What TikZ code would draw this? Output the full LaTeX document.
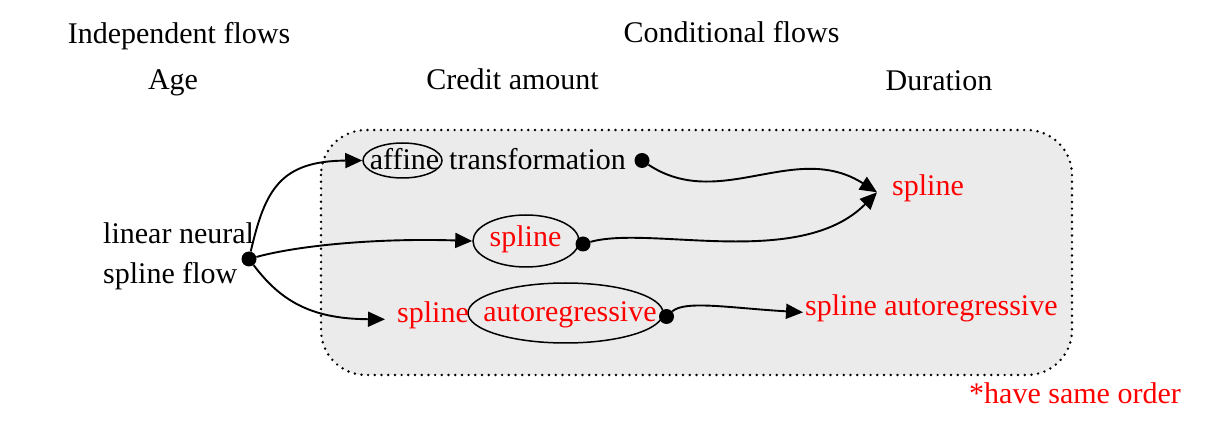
\documentclass[tikz,border=0pt]{standalone}
\usepackage{fontspec}
\setmainfont{Liberation Serif}
\usetikzlibrary{arrows.meta,shapes.geometric}
\definecolor{boxgray}{HTML}{EBEBEB}
\begin{document}
\begin{tikzpicture}[x=1pt,y=-1pt,
  every node/.style={font=\fontsize{30}{36}\selectfont, inner sep=0pt},
  lbl/.style={anchor=base},
  lblw/.style={anchor=base west},
  ell/.style={ellipse, draw, line width=1.5pt, inner sep=0pt},
  dotn/.style={circle, fill=black, minimum size=15pt},
  redt/.style={text=red},
  conn/.style={line width=1.9pt, -{Triangle[length=17pt,width=15pt]}},
  boxline/.style={fill=boxgray, rounded corners=45pt, line width=2.7pt, line cap=round, dash pattern=on 0pt off 6.7pt}]
\useasboundingbox (0,0) rectangle (1208,446);
\draw[boxline] (321,130) rectangle (1072,375);
% headers
\node[lbl] (indep) at (179,44) {Independent flows};
\node[lbl] (cond) at (731.5,42.5) {Conditional flows};
\node[lbl] (age) at (173,89.5) {Age};
\node[lbl] (credit) at (512.5,89.5) {Credit amount};
\node[lbl] (dur) at (939,90.5) {Duration};
% left
\node[lblw] (lin1) at (103,243.5) {linear neural};
\node[lblw] (lin2) at (103,283.5) {spline flow};
\node[dotn] (d0) at (249,259) {};
% top row
\node[ell, minimum width=79pt, minimum height=35pt] (aff) at (402.5,160.5) {};
\node[lbl] (afft) at (404.5,169.5) {affine};
\node[lblw] (tr) at (449,169.5) {transformation};
\node[dotn] (d1) at (642,160.5) {};
% middle row
\node[ell, minimum width=106pt, minimum height=52pt] (sp) at (526,241) {};
\node[lbl, redt] (spt) at (525.5,246.5) {spline};
\node[dotn] (d2) at (583,244) {};
% bottom row
\node[ell, minimum width=195pt, minimum height=60pt] (ar) at (565.5,313) {};
\node[lbl, redt] (art) at (570,322) {autoregressive};
\node[dotn] (d3) at (666.5,316.5) {};
\node[lblw, redt, inner xsep=12pt] (sb) at (385,322.5) {spline};
% duration
\node[lblw, redt, inner xsep=15pt] (sd) at (877,195.5) {spline};
\node[lblw, redt, inner xsep=2pt] (sar) at (803,315.5) {spline autoregressive};
\node[lbl, redt] (note) at (1075,403.5) {*have same order};
% connectors
\draw[conn] (d0) .. controls (265,190) and (280,161) .. (aff.west);
\draw[conn] (d0) .. controls (300,245) and (380,238) .. (sp.west);
\draw[conn] (d0) .. controls (280,300) and (310,319) .. ([yshift=-4pt]sb.west);
\draw[conn] (d1) .. controls (720,212) and (795,140) .. ([yshift=-4pt]sd.west);
\draw[conn] (d2) .. controls (650,225) and (800,270) .. ([yshift=-4pt]sd.west);
\draw[conn] (d3) .. controls (685,300) and (730,308) .. ([yshift=-4pt]sar.west);
\end{tikzpicture}
\end{document}
